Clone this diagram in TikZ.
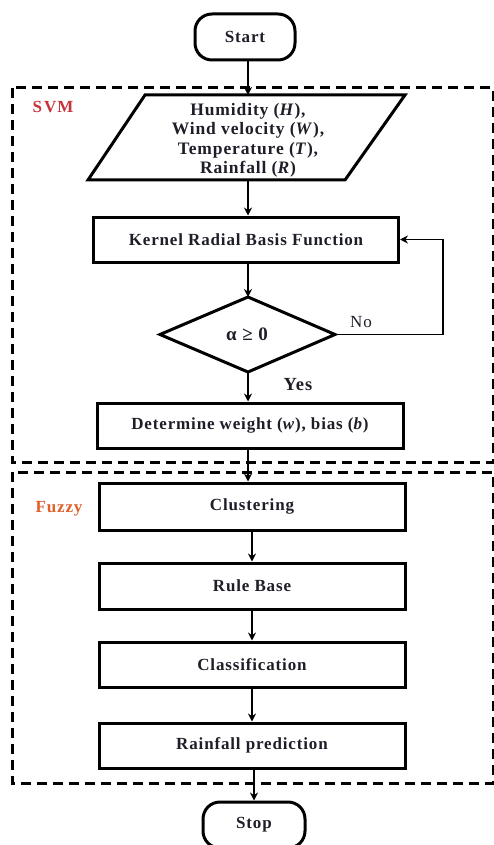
\documentclass[tikz,border=0pt]{standalone}
\usepackage{fontspec}
\setmainfont{Liberation Serif}[LetterSpace=5]
\usetikzlibrary{arrows.meta}
\definecolor{svmred}{HTML}{C8323A}
\definecolor{fuzzyorange}{HTML}{E0602A}
\definecolor{txt}{HTML}{1E1E28}
\begin{document}
\begin{tikzpicture}[x=1pt,y=-1pt,
  every node/.style={text=txt, font=\fontsize{17}{19}\selectfont\bfseries},
  box/.style={draw=black, line width=3pt, minimum width=306pt, minimum height=46pt, inner sep=0pt},
  term/.style={draw=black, line width=3pt, rounded corners=17pt, minimum width=100pt, minimum height=46pt, inner sep=0pt},
  arr/.style={line width=1.8pt, -{Stealth[length=8pt,width=8pt]}},
  group/.style={line width=3pt, dash pattern=on 10pt off 6pt},
  grouplabel/.style={font=\fontsize{17}{19}\selectfont\bfseries}
]
\useasboundingbox (0,0) rectangle (494,845);
% groups
\draw[group] (12,88) rectangle (493,462);
\draw[group] (12,472) rectangle (493,783);
\node[grouplabel, text=svmred] (svmlab) at (53,107) {S\kern2pt V\kern1ptM};
\node[grouplabel, text=fuzzyorange] (fuzlab) at (59,509) {Fuzzy};
% nodes
\node[term] (start) at (245,37) {Start};
\node[minimum width=200pt, minimum height=85pt, inner sep=0pt, align=center,
      font=\fontsize{17.5}{19.5}\selectfont\bfseries] (input) at (248,140.5)
  {Humidity (\textit{H}),\\ Wind velocity (\textit{W}),\\ Temperature (\textit{T}),\\ Rainfall (\textit{R})};
\coordinate (intop) at (248,95);
\coordinate (inbot) at (248,180);
\draw[line width=3pt, line join=miter] (88,180) -- (145,95) -- (405,95) -- (345,180) -- cycle;
\node[box, minimum width=305pt, minimum height=45pt] (kernel) at (246,239.5) {Kernel Radial Basis Function};
\coordinate (dl) at (160,334.5);
\coordinate (dr) at (335,334.5);
\coordinate (dt) at (248,297);
\coordinate (db) at (248,372);
\coordinate (loop) at (443,334.5);
\draw[line width=3pt, line join=miter] (dl) -- (dt) -- (dr) -- (db) -- cycle;
\node[font=\fontsize{19}{21}\selectfont\bfseries] (alpha) at (247,334.5) {α ≥ 0};
\node[box, minimum height=45pt] (determine) at (250,425.5) {Determine weight (\textit{w}), bias (\textit{b})};
\node[box, minimum height=47pt] (clust) at (252,506.5) {Clustering};
\node[box] (rule) at (252,586) {Rule Base};
\node[box, minimum height=45pt] (class) at (252,664.5) {Classification};
\node[box, minimum height=45pt] (pred) at (252,745.5) {Rainfall prediction};
\node[term, minimum width=102pt] (stop) at (254,825) {Stop};
\node[font=\fontsize{17}{19}\selectfont] (no) at (361,322) {No};
\node[font=\fontsize{18.5}{20}\selectfont\bfseries] (yes) at (298,385) {Yes};
% connectors
\draw[arr] (start.south -| intop) -- (intop);
\draw[arr] (inbot) -- (inbot |- kernel.north);
\draw[arr] (dt |- kernel.south) -- (dt);
\draw[arr] (db) -- (db |- determine.north);
\draw[arr] (db |- determine.south) -- (db |- clust.north);
\draw[arr] (clust.south) -- (rule.north);
\draw[arr] (rule.south) -- (class.north);
\draw[arr] (class.south) -- (pred.north);
\draw[arr] (stop.north |- pred.south) -- (stop.north);
\draw[arr] (dr) -- (loop) |- (kernel.east);
\end{tikzpicture}
\end{document}
